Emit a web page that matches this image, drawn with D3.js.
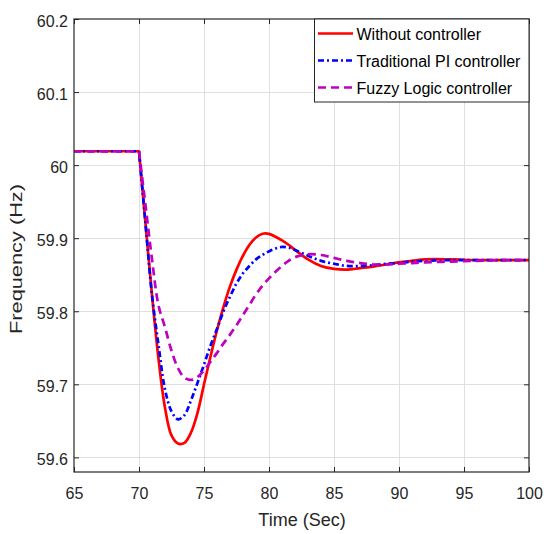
<!DOCTYPE html>
<html>
<head>
<meta charset="utf-8">
<script src="https://cdn.jsdelivr.net/npm/d3@7"></script>
<style>
  html, body { margin: 0; padding: 0; background: #ffffff; }
  svg { display: block; }
  text { font-family: "Liberation Sans", Arial, Helvetica, sans-serif; }
</style>
</head>
<body>
<svg id="chart" width="544" height="534"></svg>
<script>
// Frequency response after a load step at t = 70 s
const preFaultTime = [65, 70];
const preFaultFreq = 60.019;

const timeSec = [70, 70.5, 71, 71.5, 72, 72.5, 73, 73.5, 74, 74.5, 75, 75.5, 76, 76.5, 77, 77.5,
  78, 78.5, 79, 79.5, 80, 80.5, 81, 81.5, 82, 83, 84, 85, 86, 87, 88, 89, 90, 91, 92, 94, 96, 98, 100];

const withoutController = [60.019, 59.920, 59.822, 59.735, 59.668, 59.630, 59.619, 59.620, 59.634, 59.661,
  59.700, 59.738, 59.774, 59.806, 59.834, 59.857, 59.876, 59.891, 59.901, 59.906, 59.906, 59.902, 59.897,
  59.891, 59.884, 59.871, 59.862, 59.858, 59.857, 59.859, 59.861, 59.864, 59.867, 59.869, 59.871, 59.871,
  59.870, 59.870, 59.870];

const traditionalPI = [60.019, 59.920, 59.822, 59.754, 59.693, 59.663, 59.652, 59.658, 59.678, 59.702,
  59.727, 59.753, 59.776, 59.800, 59.820, 59.838, 59.852, 59.862, 59.871, 59.877, 59.882, 59.886, 59.888,
  59.887, 59.884, 59.876, 59.869, 59.865, 59.862, 59.862, 59.863, 59.865, 59.866, 59.868, 59.869, 59.870,
  59.870, 59.870, 59.870];

const fuzzyLogic = [60.019, 59.945, 59.871, 59.808, 59.778, 59.746, 59.722, 59.709, 59.706, 59.710,
  59.719, 59.731, 59.743, 59.756, 59.768, 59.781, 59.795, 59.809, 59.823, 59.835, 59.845, 59.854, 59.862,
  59.869, 59.874, 59.878, 59.877, 59.873, 59.869, 59.866, 59.864, 59.864, 59.865, 59.866, 59.867, 59.868,
  59.869, 59.870, 59.870];

const seriesNames = ["Without controller", "Traditional PI controller", "Fuzzy Logic controller"];
const seriesValues = [withoutController, traditionalPI, fuzzyLogic];
const seriesColors = ["#ff0000", "#0000ff", "#bf00bf"];
const seriesDashes = [null, "6,3,2,3", "8,5"];

const xTicks = [65, 70, 75, 80, 85, 90, 95, 100];
const xTickLabels = ["65", "70", "75", "80", "85", "90", "95", "100"];
const yTicks = [59.6, 59.7, 59.8, 59.9, 60, 60.1, 60.2];
const yTickLabels = ["59.6", "59.7", "59.8", "59.9", "60", "60.1", "60.2"];

const xLabel = "Time (Sec)";
const yLabel = "Frequency (Hz)";

// Layout
const plot = { left: 74, top: 19, right: 529, bottom: 472 };
const svg = d3.select("#chart");

const x = d3.scaleLinear().domain([65, 100]).range([plot.left, plot.right]);
const y = d3.scaleLinear().domain([59.58, 60.2]).range([plot.bottom, plot.top]);

const axisInk = "#262626";

// Grid
const grid = svg.append("g").attr("stroke", "#dfdfdf").attr("stroke-width", 1);
grid.selectAll("line.vx").data(xTicks.slice(1, -1)).join("line")
  .attr("x1", d => Math.round(x(d)) + 0.5).attr("x2", d => Math.round(x(d)) + 0.5)
  .attr("y1", plot.top).attr("y2", plot.bottom);
grid.selectAll("line.hy").data(yTicks.filter(d => d < 60.2)).join("line")
  .attr("y1", d => Math.round(y(d)) + 0.5).attr("y2", d => Math.round(y(d)) + 0.5)
  .attr("x1", plot.left).attr("x2", plot.right);

// Series: flat pre-step segment, then a smooth curve through the sampled response
const flatLine = d3.line().x(d => x(d[0])).y(d => y(d[1]));
const curveLine = d3.line().x(d => x(d[0])).y(d => y(d[1])).curve(d3.curveCatmullRom.alpha(0.5));

const linesG = svg.append("g");
seriesValues.forEach((vals, i) => {
  const pre = flatLine(preFaultTime.map(t => [t, preFaultFreq]));
  const post = curveLine(timeSec.map((t, j) => [t, vals[j]]));
  linesG.append("path")
    .attr("d", pre + "L" + post.slice(1))
    .attr("fill", "none")
    .attr("stroke", seriesColors[i])
    .attr("stroke-width", 2.7)
    .attr("stroke-dasharray", seriesDashes[i])
    .attr("stroke-linejoin", "round");
});

// Axes (ticks point inward on all four sides)
function styleAxis(g) {
  g.select(".domain").remove();
  g.selectAll(".tick line").attr("stroke", axisInk).attr("stroke-width", 1);
  g.selectAll(".tick text").attr("fill", axisInk).attr("font-size", 16)
    .attr("font-family", "'Liberation Sans', Arial, sans-serif");
}

svg.append("g").attr("transform", `translate(0,${plot.bottom})`)
  .call(d3.axisBottom(x).tickValues(xTicks).tickFormat((d, i) => xTickLabels[i])
    .tickSizeInner(-5).tickSizeOuter(0).tickPadding(15.5))
  .call(styleAxis);

svg.append("g").attr("transform", `translate(0,${plot.top})`)
  .call(d3.axisTop(x).tickValues(xTicks).tickFormat("").tickSizeInner(-5).tickSizeOuter(0))
  .call(styleAxis);

svg.append("g").attr("transform", `translate(${plot.left},0)`)
  .call(d3.axisLeft(y).tickValues(yTicks).tickFormat((d, i) => yTickLabels[i])
    .tickSizeInner(-5).tickSizeOuter(0).tickPadding(6))
  .call(styleAxis)
  .call(g => g.selectAll(".tick text").attr("dy", "0.45em"));

svg.append("g").attr("transform", `translate(${plot.right},0)`)
  .call(d3.axisRight(y).tickValues(yTicks).tickFormat("").tickSizeInner(-5).tickSizeOuter(0))
  .call(styleAxis);

// Box
svg.append("rect")
  .attr("x", plot.left).attr("y", plot.top)
  .attr("width", plot.right - plot.left).attr("height", plot.bottom - plot.top)
  .attr("fill", "none").attr("stroke", axisInk).attr("stroke-width", 1.2);

// Axis titles
svg.append("text")
  .attr("x", (plot.left + plot.right) / 2 + 0.5).attr("y", 526)
  .attr("text-anchor", "middle").attr("font-size", 18).attr("fill", axisInk)
  .text(xLabel);

svg.append("text")
  .attr("transform", "translate(22,259) rotate(-90)")
  .attr("text-anchor", "middle").attr("font-size", 16).attr("fill", axisInk)
  .attr("textLength", 150).attr("lengthAdjust", "spacingAndGlyphs")
  .text(yLabel);

// Legend
const legend = { left: 314.5, top: 19, width: 214.5, height: 83, rowY: [33.5, 60.5, 87.5] };
const lg = svg.append("g");
lg.append("rect")
  .attr("x", legend.left).attr("y", legend.top)
  .attr("width", legend.width).attr("height", legend.height)
  .attr("fill", "#ffffff").attr("stroke", axisInk).attr("stroke-width", 1);

seriesNames.forEach((name, i) => {
  const ry = legend.rowY[i];
  lg.append("line")
    .attr("x1", legend.left + 3.5).attr("x2", legend.left + 38.5)
    .attr("y1", ry).attr("y2", ry)
    .attr("stroke", seriesColors[i]).attr("stroke-width", 2.7)
    .attr("stroke-dasharray", seriesDashes[i]);
  lg.append("text")
    .attr("x", legend.left + 42).attr("y", ry + 6)
    .attr("font-size", 16).attr("fill", "#000000")
    .text(name);
});
</script>
</body>
</html>
